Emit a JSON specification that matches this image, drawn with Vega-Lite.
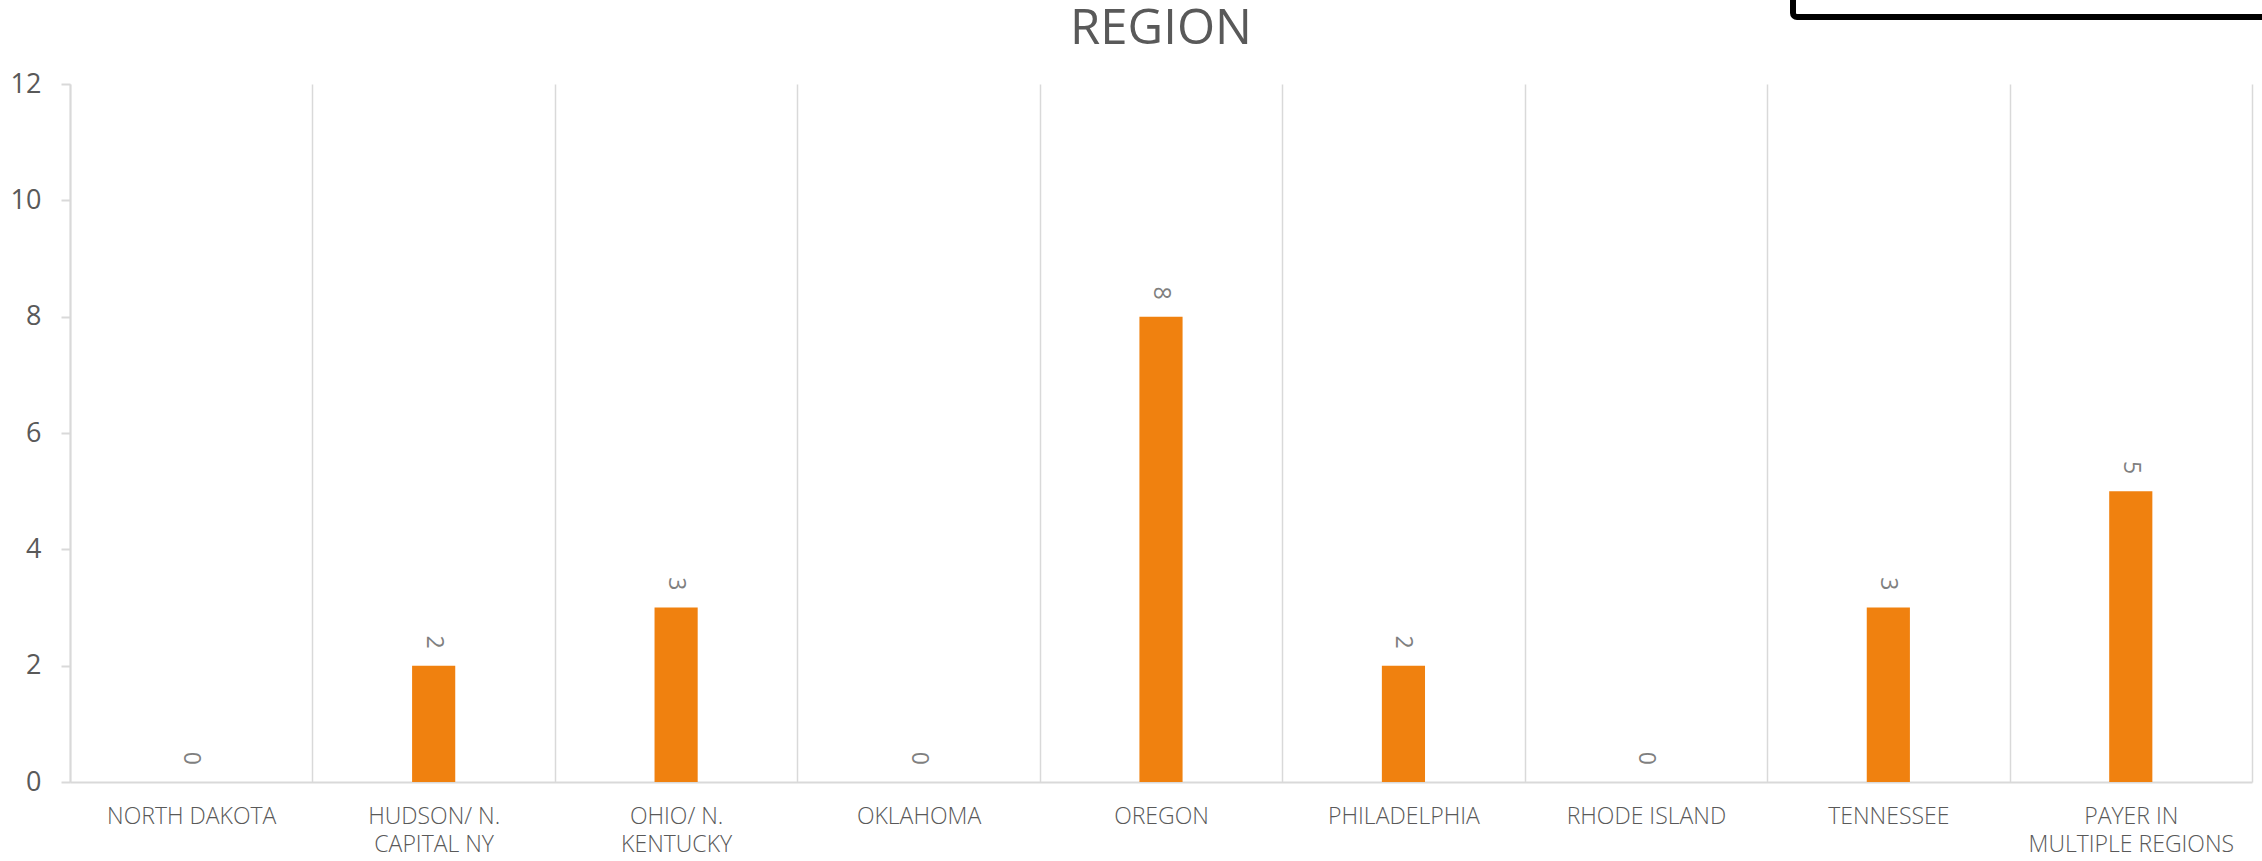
{
  "$schema": "https://vega.github.io/schema/vega-lite/v6.json",
  "width": 2182,
  "height": 698,
  "autosize": {"type": "none"},
  "padding": {"left": 70, "top": 84, "right": 10, "bottom": 79},
  "background": "white",
  "title": {"text": "REGION", "font": "Open Sans", "fontSize": 49, "fontWeight": "normal", "color": "#595959", "anchor": "middle", "offset": 0, "baseline": "alphabetic", "dy": 159},
  "data": {"values": [
    {"region": "NORTH DAKOTA", "count": 0},
    {"region": "HUDSON/ N. CAPITAL NY", "count": 2},
    {"region": "OHIO/ N. KENTUCKY", "count": 3},
    {"region": "OKLAHOMA", "count": 0},
    {"region": "OREGON", "count": 8},
    {"region": "PHILADELPHIA", "count": 2},
    {"region": "RHODE ISLAND", "count": 0},
    {"region": "TENNESSEE", "count": 3},
    {"region": "PAYER IN MULTIPLE REGIONS", "count": 5}
  ]},
  "encoding": {
    "x": {
      "field": "region", "type": "nominal", "sort": null,
      "scale": {"paddingInner": 0, "paddingOuter": 0},
      "axis": {
        "title": null, "labelAngle": 0, "ticks": false, "grid": true, "tickBand": "extent",
        "gridColor": "#d9d9d9", "gridWidth": 1.5, "domainColor": "#d9d9d9", "domainWidth": 2,
        "labelFont": "Open Sans", "labelFontSize": 23, "labelFontWeight": 300, "labelColor": "#595959", "labelPadding": 23,
        "labelLineHeight": 28, "labelBaseline": "top", "labelLimit": 0,
        "labelExpr": "datum.value == 'HUDSON/ N. CAPITAL NY' ? ['HUDSON/ N.', 'CAPITAL NY'] : datum.value == 'OHIO/ N. KENTUCKY' ? ['OHIO/ N.', 'KENTUCKY'] : datum.value == 'PAYER IN MULTIPLE REGIONS' ? ['PAYER IN', 'MULTIPLE REGIONS'] : datum.label"
      }
    },
    "y": {
      "field": "count", "type": "quantitative",
      "scale": {"domain": [0, 12]},
      "axis": {
        "title": null, "values": [0, 2, 4, 6, 8, 10, 12], "grid": false,
        "domainColor": "#d9d9d9", "domainWidth": 2, "tickColor": "#d9d9d9", "tickSize": 9, "tickWidth": 2,
        "labelFont": "Open Sans", "labelFontSize": 27, "labelColor": "#595959", "labelPadding": 20
      }
    }
  },
  "layer": [
    {
      "mark": {"type": "bar", "width": {"band": 0.178}},
      "encoding": {
        "color": {
          "datum": "Count",
          "scale": {"range": ["#F0810F"]},
          "legend": {
            "orient": "none", "legendX": 1723, "legendY": -147, "title": null,
            "strokeColor": "black", "cornerRadius": 4, "padding": 30, "fillColor": "white",
            "symbolType": "square", "labelFontSize": 20, "labelOffset": 357, "symbolOffset": 37,
            "labelExpr": "''"
          }
        }
      }
    },
    {
      "mark": {"type": "text", "angle": 90, "align": "right", "baseline": "middle", "dx": -17, "font": "Open Sans", "fontSize": 23, "color": "#7f7f7f"},
      "encoding": {"text": {"field": "count", "type": "quantitative"}}
    }
  ],
  "config": {
    "view": {"stroke": null},
    "legend": {"strokeWidth": 6}
  }
}
